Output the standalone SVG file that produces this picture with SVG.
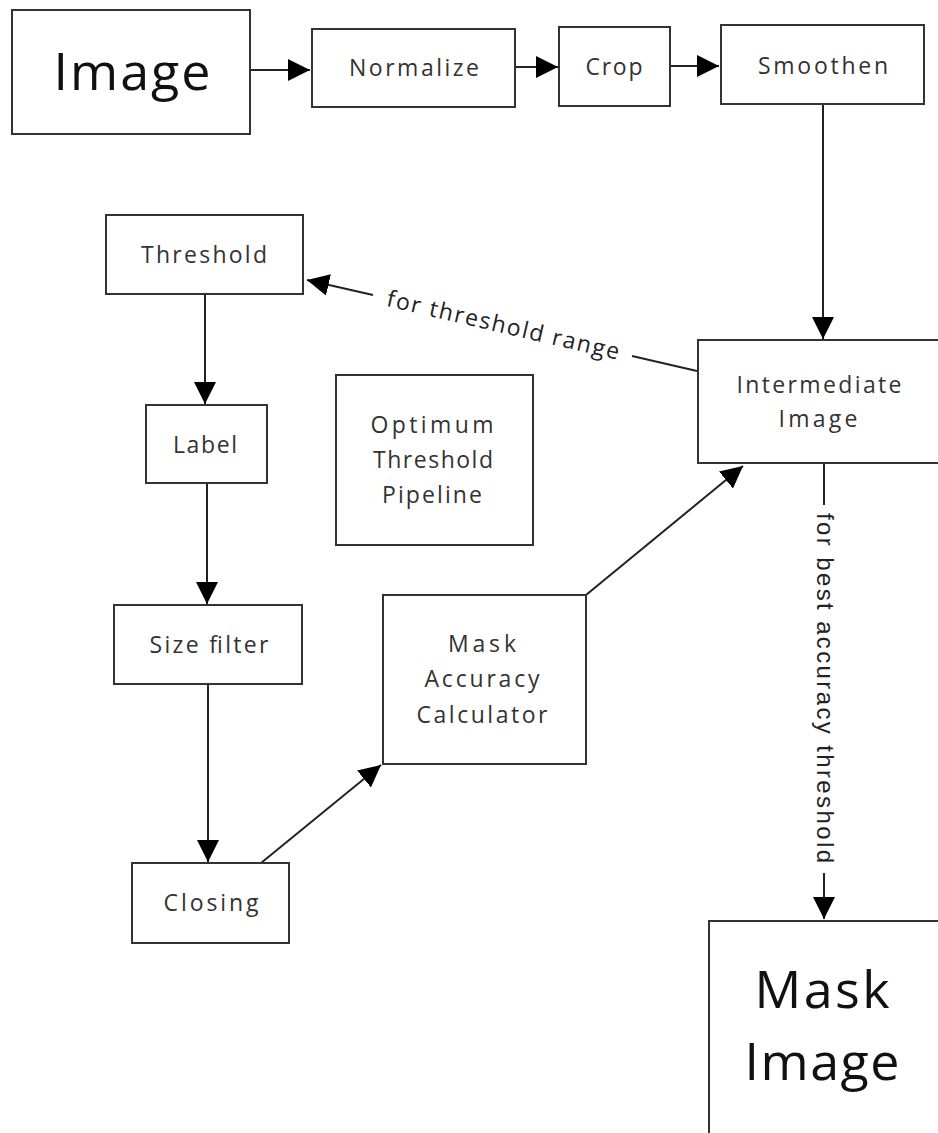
<svg xmlns="http://www.w3.org/2000/svg" width="938" height="1133" viewBox="0 0 938 1133">
<defs>
<marker id="ah" markerUnits="userSpaceOnUse" markerWidth="22" markerHeight="22" refX="22" refY="11" orient="auto" viewBox="0 0 22 22">
<path d="M0,0 L22,11 L0,22 Z" fill="#000"/>
</marker>
<style>
.box{fill:#fff;stroke:#333;stroke-width:2}
.t{font-family:"Open Sans",Inter,"Liberation Sans",sans-serif;font-size:23px;font-weight:500;fill:#333;text-anchor:middle}
.big{font-family:"Open Sans",Inter,"Liberation Sans",sans-serif;font-size:52px;fill:#111;text-anchor:middle}
.e{fill:none;stroke:#222;stroke-width:2}
.lbl{font-family:"Open Sans",Inter,"Liberation Sans",sans-serif;font-size:23px;font-weight:500;fill:#222}
.vl{font-family:"Liberation Sans",Arial,sans-serif;font-size:24px;fill:#222}
</style>
</defs>
<rect width="938" height="1133" fill="#fff"/>
<g id="connectors">
<path class="e" d="M250,70 L310,70" marker-end="url(#ah)"/>
<path class="e" d="M515,67 L558,67" marker-end="url(#ah)"/>
<path class="e" d="M670,66 L719,66" marker-end="url(#ah)"/>
<path class="e" d="M823,104 L823,339" marker-end="url(#ah)"/>
<path class="e" d="M697,371 L632,356 M373,295 L307,280" marker-end="url(#ah)"/>
<text class="lbl" transform="translate(503,326) rotate(13.1)" text-anchor="middle" y="7" textLength="238">for threshold range</text>
<path class="e" d="M205,294 L205,404" marker-end="url(#ah)"/>
<path class="e" d="M207,483 L207,604" marker-end="url(#ah)"/>
<path class="e" d="M208,684 L208,862" marker-end="url(#ah)"/>
<path class="e" d="M261,863 L381,765" marker-end="url(#ah)"/>
<path class="e" d="M586,595 L743,466" marker-end="url(#ah)"/>
<path class="e" d="M824,463 L824,505 M824,873 L824,919" marker-end="url(#ah)"/>
<text class="vl" transform="translate(825,688) rotate(90)" text-anchor="middle" y="8" textLength="350">for best accuracy threshold</text>
</g>
<g id="image"><rect class="box" x="12" y="10" width="238" height="124"/><text class="big" x="132" y="90" textLength="157">Image</text></g>
<g id="normalize"><rect class="box" x="312" y="29" width="203" height="78"/><text class="t" x="414" y="76" textLength="130">Normalize</text></g>
<g id="crop"><rect class="box" x="559" y="27" width="111" height="79"/><text class="t" x="614" y="75" textLength="57">Crop</text></g>
<g id="smoothen"><rect class="box" x="721" y="25" width="203" height="79"/><text class="t" x="823" y="74" textLength="130">Smoothen</text></g>
<g id="intermediate"><rect class="box" x="698" y="340" width="250" height="123"/><text class="t" x="819" y="393" textLength="165">Intermediate</text><text class="t" x="818" y="427" textLength="79">Image</text></g>
<g id="threshold"><rect class="box" x="106" y="215" width="197" height="79"/><text class="t" x="204" y="263" textLength="126">Threshold</text></g>
<g id="label"><rect class="box" x="146" y="405" width="121" height="78"/><text class="t" x="205" y="453" textLength="64">Label</text></g>
<g id="sizefilter"><rect class="box" x="114" y="605" width="188" height="79"/><text class="t" x="209" y="653" textLength="119">Size filter</text></g>
<g id="closing"><rect class="box" x="132" y="863" width="157" height="80"/><text class="t" x="211" y="911" textLength="95">Closing</text></g>
<g id="optimum"><rect class="box" x="336" y="375" width="197" height="170"/><text class="t" x="432" y="433" textLength="123">Optimum</text><text class="t" x="433" y="468" textLength="120">Threshold</text><text class="t" x="432" y="503" textLength="100">Pipeline</text></g>
<g id="mac"><rect class="box" x="383" y="595" width="203" height="169"/><text class="t" x="482" y="652" textLength="68">Mask</text><text class="t" x="482" y="687" textLength="115">Accuracy</text><text class="t" x="482" y="723" textLength="131">Calculator</text></g>
<g id="maskimage"><rect class="box" x="709" y="921" width="240" height="230"/><text class="big" x="822" y="1008" textLength="135">Mask</text><text class="big" x="822" y="1080" textLength="155">Image</text></g>
</svg>
